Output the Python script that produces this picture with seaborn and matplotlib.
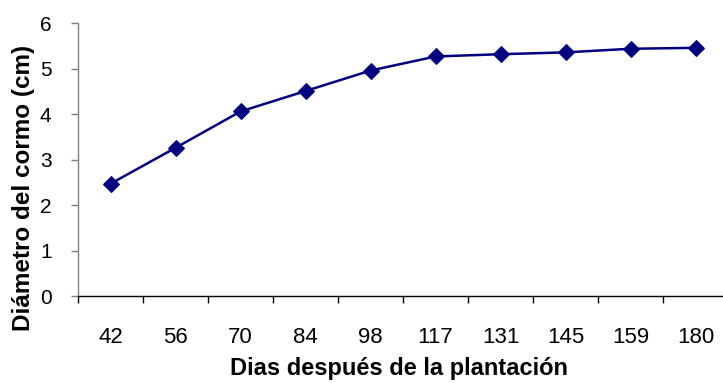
import numpy as np
import pandas as pd
import seaborn as sns
import matplotlib.pyplot as plt

# days after planting (categories) and corm diameter (cm)
dias = ["42", "56", "70", "84", "98", "117", "131", "145", "159", "180"]
diametro = [2.47, 3.26, 4.06, 4.51, 4.96, 5.27, 5.32, 5.36, 5.44, 5.46]

df = pd.DataFrame({"pos": np.arange(len(dias)), "diametro": diametro})

sns.set_style("white")
plt.rcParams["font.family"] = ["Liberation Sans", "DejaVu Sans"]
plt.rcParams["text.color"] = "black"
plt.rcParams["xtick.color"] = "black"
plt.rcParams["ytick.color"] = "black"
plt.rcParams["axes.labelcolor"] = "black"

fig = plt.figure(figsize=(7.23, 3.83), dpi=100)
ax = fig.add_axes([78 / 723, 87 / 383, 650 / 723, 272.7 / 383])

sns.lineplot(data=df, x="pos", y="diametro", ax=ax, color="#000080",
             marker="D", markersize=8.5, markeredgecolor="#000080",
             linewidth=1.8)

ax.set_xlim(-0.5, len(dias) - 0.5)
ax.set_ylim(0, 6)
ax.set_yticks(range(0, 7))
ax.set_xticks(np.arange(len(dias)))
ax.set_xticklabels(dias)
# tick marks between categories, like the original
ax.set_xticks(np.arange(len(dias)) - 0.5, minor=True)
ax.tick_params(axis="x", which="major", length=0, pad=22, labelsize=16)
ax.tick_params(axis="x", which="minor", length=5, width=1, color="black",
               direction="out", bottom=True)
ax.tick_params(axis="y", length=5, width=1, color="#808080", direction="out",
               left=True, labelsize=15, pad=14)

for s in ["top", "right"]:
    ax.spines[s].set_visible(False)
ax.spines["left"].set_color("#808080")
ax.spines["bottom"].set_color("black")
ax.spines["left"].set_linewidth(1)
ax.spines["bottom"].set_linewidth(1)

ax.set_xlabel("Dias después de la plantación", fontsize=17, fontweight="bold")
ax.set_ylabel("Diámetro del cormo (cm)", fontsize=17.5, fontweight="bold")
ax.xaxis.set_label_coords(0.494, -0.222)
ax.yaxis.set_label_coords(-0.066, 0.396)

fig.savefig("out.png", dpi=100)
